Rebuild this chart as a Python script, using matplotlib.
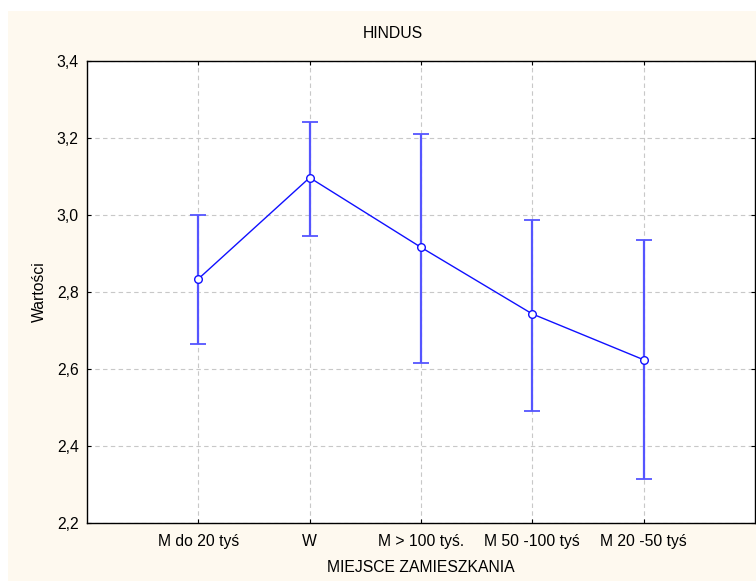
import numpy as np
import matplotlib
matplotlib.use('Agg')
import matplotlib.pyplot as plt
from matplotlib.patches import Rectangle
from matplotlib.ticker import FuncFormatter

plt.rcParams['font.family'] = ['Liberation Sans', 'DejaVu Sans']
plt.rcParams['font.size'] = 11.3

# dane
kategorie = ['M do 20 tyś', 'W', 'M > 100 tyś.', 'M 50 -100 tyś', 'M 20 -50 tyś']
srednie = [2.834, 3.097, 2.916, 2.743, 2.624]
gorne = [3.000, 3.242, 3.210, 2.987, 2.935]
dolne = [2.665, 2.945, 2.615, 2.491, 2.314]
y_ticks = [2.2, 2.4, 2.6, 2.8, 3.0, 3.2, 3.4]

fig = plt.figure(figsize=(7.56, 5.81), dpi=100)
fig.patch.set_facecolor('white')
# kremowe tło (pod osiami)
tlo = Rectangle((8/756, 0), 1, 1 - 11/581, transform=fig.transFigure,
                facecolor='#FEF9EF', edgecolor='none', zorder=-10)
fig.add_artist(tlo)

ax = fig.add_axes([87/756, 58/581, (755-87)/756, (523-61)/581])
ax.set_facecolor('white')

x = np.arange(len(kategorie))
sr = np.array(srednie)
err = [sr - np.array(dolne), np.array(gorne) - sr]

ax.errorbar(x, sr, yerr=err, fmt='none', ecolor='#5555FF', elinewidth=1.6,
            capsize=6, capthick=1.3, zorder=3)
ax.plot(x, sr, color='#1010FF', lw=1.0, zorder=4)
ax.plot(x, sr, 'o', ms=5.5, mfc='white', mec='#1010FF', mew=1.0, zorder=5)

ax.set_xlim(-1, 5)
ax.set_ylim(2.2, 3.4)
ax.set_xticks(x)
ax.set_xticklabels(kategorie)
ax.set_yticks(y_ticks)
ax.yaxis.set_major_formatter(FuncFormatter(lambda v, p: f'{v:.1f}'.replace('.', ',')))

ax.grid(True, color='#C8C8C8', linestyle=(0, (4, 3)), lw=0.8)
ax.set_axisbelow(True)
ax.tick_params(direction='in', length=3, width=0.8, top=True, right=True)
ax.tick_params(axis='x', pad=8)
ax.tick_params(axis='y', pad=6)
for s in ax.spines.values():
    s.set_linewidth(1.0)
    s.set_color('black')

ax.set_xlabel('MIEJSCE ZAMIESZKANIA', labelpad=8)
ax.set_ylabel('Wartości', labelpad=7)
fig.text(393/756, 1 - 33/581, 'HINDUS', ha='center', va='center')

fig.savefig('out.png', dpi=100)
